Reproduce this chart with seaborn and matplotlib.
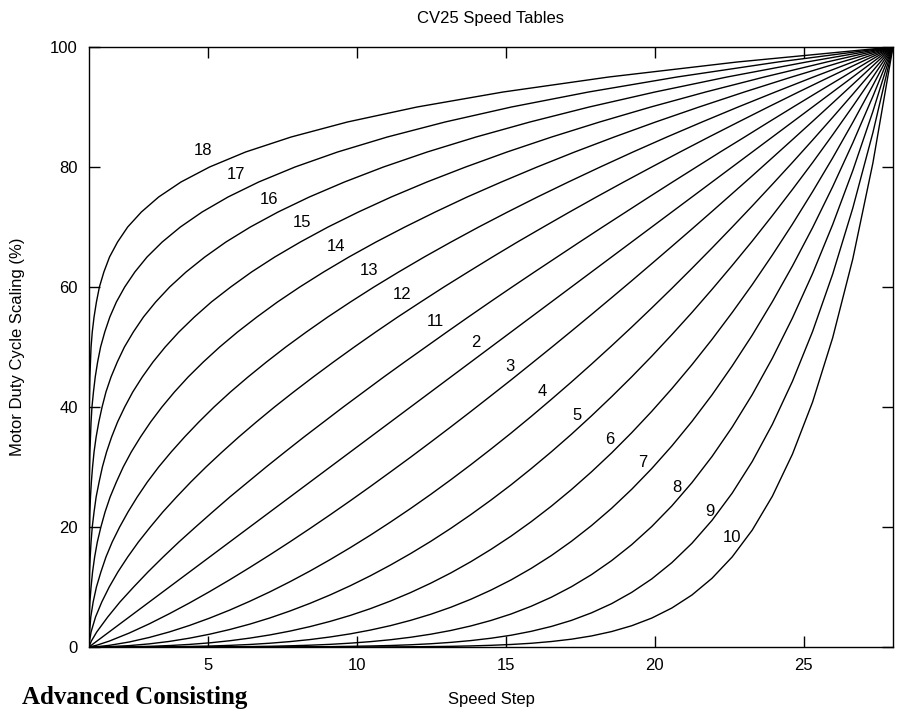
import matplotlib
matplotlib.use("Agg")
import matplotlib.pyplot as plt
import seaborn as sns

# speed steps at which the rising tables (2-10) were read
STEP_GRID = [1, 1.27, 1.675, 2.35, 3.025, 3.7, 4.375, 5.05, 5.725, 6.4, 7.075, 7.75, 8.425,
             9.1, 9.775, 10.45, 11.125, 11.8, 12.475, 13.15, 13.825, 14.5, 15.175, 15.85,
             16.525, 17.2, 17.875, 18.55, 19.225, 19.9, 20.575, 21.25, 21.925, 22.6,
             23.275, 23.95, 24.625, 25.3, 25.975, 26.65, 27.325, 28]
# duty levels (%) at which the steep-start tables (11-18) were read
DUTY_GRID = [0, 1, 2.5, 5, 7.5, 10, 12.5, 15, 17.5, 20, 22.5, 25, 27.5, 30, 32.5, 35, 37.5,
             40, 42.5, 45, 47.5, 50, 52.5, 55, 57.5, 60, 62.5, 65, 67.5, 70, 72.5, 75, 77.5,
             80, 82.5, 85, 87.5, 90, 92.5, 95, 97.5, 100]

# duty (%) at STEP_GRID
TABLE_2 = [0, 1, 2.5, 5, 7.5, 10, 12.5, 15, 17.5, 20, 22.5, 25, 27.5, 30, 32.5, 35, 37.5,
           40, 42.5, 45, 47.5, 50, 52.5, 55, 57.5, 60, 62.5, 65, 67.5, 70, 72.5, 75, 77.5,
           80, 82.5, 85, 87.5, 90, 92.5, 95, 97.5, 100]
TABLE_3 = [0, 0.31, 0.97, 2.32, 3.86, 5.55, 7.34, 9.23, 11.2, 13.25, 15.36, 17.53, 19.76,
           22.04, 24.37, 26.75, 29.18, 31.63, 34.14, 36.68, 39.26, 41.88, 44.51, 47.2,
           49.9, 52.64, 55.41, 58.21, 61.03, 63.89, 66.77, 69.67, 72.6, 75.56, 78.53,
           81.54, 84.56, 87.6, 90.67, 93.76, 96.87, 100]
TABLE_4 = [0, 0.06, 0.27, 0.83, 1.59, 2.51, 3.59, 4.81, 6.15, 7.62, 9.19, 10.88, 12.67,
           14.57, 16.56, 18.64, 20.82, 23.08, 25.43, 27.87, 30.39, 32.99, 35.66, 38.42,
           41.26, 44.16, 47.14, 50.19, 53.31, 56.51, 59.77, 63.11, 66.51, 69.98, 73.51,
           77.11, 80.76, 84.48, 88.27, 92.12, 96.03, 100]
TABLE_5 = [0, 0.01, 0.06, 0.23, 0.52, 0.93, 1.47, 2.13, 2.91, 3.81, 4.84, 6.0, 7.28, 8.68,
           10.21, 11.87, 13.66, 15.57, 17.6, 19.77, 22.07, 24.49, 27.03, 29.72, 32.52,
           35.45, 38.52, 41.71, 45.02, 48.47, 52.06, 55.76, 59.61, 63.58, 67.66, 71.9,
           76.26, 80.73, 85.36, 90.11, 94.99, 100]
TABLE_6 = [0, 0, 0.01, 0.04, 0.11, 0.24, 0.43, 0.69, 1.04, 1.48, 2.01, 2.65, 3.4, 4.27,
           5.26, 6.39, 7.66, 9.07, 10.63, 12.34, 14.22, 16.27, 18.48, 20.88, 23.46, 26.23,
           29.19, 32.34, 35.71, 39.28, 43.06, 47.05, 51.28, 55.74, 60.4, 65.33, 70.48,
           75.88, 81.51, 87.42, 93.59, 100]
TABLE_7 = [0, 0, 0, 0, 0.02, 0.04, 0.09, 0.16, 0.27, 0.42, 0.63, 0.9, 1.24, 1.67, 2.19,
           2.82, 3.56, 4.44, 5.45, 6.62, 7.96, 9.48, 11.18, 13.1, 15.23, 17.61, 20.23,
           23.11, 26.28, 29.74, 33.51, 37.6, 42.03, 46.84, 51.98, 57.55, 63.51, 69.88,
           76.71, 84.0, 91.76, 100]
TABLE_8 = [0, 0, 0, 0, 0, 0, 0.01, 0.02, 0.04, 0.07, 0.12, 0.2, 0.3, 0.44, 0.64, 0.89,
           1.21, 1.62, 2.13, 2.75, 3.51, 4.42, 5.5, 6.79, 8.29, 10.04, 12.06, 14.39,
           17.05, 20.08, 23.52, 27.4, 31.76, 36.64, 42.07, 48.13, 54.84, 62.23, 70.4,
           79.38, 89.24, 100]
TABLE_9 = [0, 0, 0, 0, 0, 0, 0, 0, 0, 0.01, 0.01, 0.02, 0.04, 0.06, 0.11, 0.17, 0.25,
           0.37, 0.54, 0.77, 1.07, 1.46, 1.96, 2.61, 3.42, 4.43, 5.69, 7.22, 9.1, 11.35,
           14.06, 17.29, 21.12, 25.64, 30.92, 37.11, 44.29, 52.57, 62.14, 73.13, 85.7, 100]
TABLE_10 = [0, 0, 0, 0, 0, 0, 0, 0, 0, 0, 0, 0, 0, 0, 0.01, 0.01, 0.02, 0.04, 0.07, 0.11,
            0.18, 0.28, 0.42, 0.62, 0.91, 1.3, 1.84, 2.57, 3.54, 4.82, 6.5, 8.67, 11.46,
            15.01, 19.49, 25.13, 32.15, 40.82, 51.53, 64.66, 80.64, 100]

# speed step at DUTY_GRID
TABLE_11 = [1, 1.08, 1.26, 1.63, 2.04, 2.5, 2.98, 3.49, 4.02, 4.58, 5.15, 5.73, 6.34,
            6.95, 7.58, 8.22, 8.88, 9.54, 10.22, 10.9, 11.6, 12.31, 13.02, 13.74, 14.47,
            15.21, 15.96, 16.72, 17.48, 18.25, 19.03, 19.81, 20.6, 21.4, 22.2, 23.02,
            23.83, 24.65, 25.48, 26.32, 27.15, 28]
TABLE_12 = [1, 1.02, 1.07, 1.22, 1.43, 1.68, 1.97, 2.3, 2.66, 3.06, 3.48, 3.94, 4.42,
            4.93, 5.47, 6.03, 6.62, 7.23, 7.87, 8.53, 9.21, 9.91, 10.63, 11.37, 12.14,
            12.92, 13.73, 14.55, 15.39, 16.26, 17.14, 18.04, 18.96, 19.9, 20.85, 21.82,
            22.81, 23.81, 24.83, 25.87, 26.93, 28]
TABLE_13 = [1, 1.0, 1.02, 1.06, 1.14, 1.25, 1.4, 1.57, 1.78, 2.03, 2.31, 2.62, 2.96, 3.34,
            3.76, 4.21, 4.69, 5.2, 5.75, 6.34, 6.96, 7.61, 8.3, 9.02, 9.78, 10.57, 11.4,
            12.26, 13.16, 14.09, 15.06, 16.06, 17.1, 18.17, 19.27, 20.41, 21.59, 22.8,
            24.05, 25.33, 26.65, 28]
TABLE_14 = [1, 1.0, 1.0, 1.01, 1.03, 1.07, 1.12, 1.19, 1.28, 1.4, 1.54, 1.71, 1.92, 2.15,
            2.42, 2.73, 3.07, 3.45, 3.87, 4.33, 4.84, 5.39, 5.99, 6.64, 7.33, 8.08, 8.88,
            9.73, 10.64, 11.61, 12.63, 13.7, 14.85, 16.05, 17.31, 18.64, 20.03, 21.49,
            23.01, 24.6, 26.27, 28]
TABLE_15 = [1, 1, 1, 1.0, 1.0, 1.01, 1.02, 1.04, 1.07, 1.11, 1.17, 1.24, 1.34, 1.45, 1.59,
            1.76, 1.96, 2.2, 2.47, 2.79, 3.15, 3.56, 4.02, 4.54, 5.11, 5.76, 6.46, 7.24,
            8.1, 9.03, 10.05, 11.15, 12.35, 13.65, 15.04, 16.54, 18.15, 19.87, 21.71,
            23.68, 25.78, 28]
TABLE_16 = [1, 1, 1, 1, 1.0, 1.0, 1.0, 1.01, 1.01, 1.02, 1.03, 1.05, 1.08, 1.12, 1.17,
            1.24, 1.33, 1.44, 1.57, 1.74, 1.95, 2.19, 2.49, 2.83, 3.24, 3.71, 4.26, 4.89,
            5.6, 6.42, 7.35, 8.4, 9.58, 10.89, 12.36, 14.0, 15.81, 17.8, 20.01, 22.43,
            25.1, 28]
TABLE_17 = [1, 1, 1, 1, 1, 1, 1, 1, 1, 1.0, 1.0, 1.01, 1.01, 1.02, 1.03, 1.05, 1.07, 1.1,
            1.15, 1.21, 1.29, 1.39, 1.53, 1.7, 1.92, 2.2, 2.54, 2.95, 3.46, 4.07, 4.8,
            5.67, 6.7, 7.92, 9.35, 11.02, 12.96, 15.19, 17.78, 20.75, 24.14, 28]
TABLE_18 = [1, 1, 1, 1, 1, 1, 1, 1, 1, 1, 1, 1, 1, 1, 1.0, 1.0, 1.01, 1.01, 1.02, 1.03,
            1.05, 1.07, 1.11, 1.17, 1.25, 1.35, 1.5, 1.69, 1.96, 2.3, 2.76, 3.34, 4.09,
            5.05, 6.26, 7.79, 9.68, 12.02, 14.91, 18.46, 22.77, 28]

RISING = {2: TABLE_2, 3: TABLE_3, 4: TABLE_4, 5: TABLE_5, 6: TABLE_6, 7: TABLE_7,
          8: TABLE_8, 9: TABLE_9, 10: TABLE_10}
STEEP = {11: TABLE_11, 12: TABLE_12, 13: TABLE_13, 14: TABLE_14, 15: TABLE_15,
         16: TABLE_16, 17: TABLE_17, 18: TABLE_18}

# where the table numbers sit (step, duty)
LABEL_POS = {18: (4.83, 82.7), 17: (5.93, 78.7), 16: (7.04, 74.5), 15: (8.15, 70.8),
             14: (9.29, 66.8), 13: (10.40, 62.8), 12: (11.50, 58.7), 11: (12.64, 54.3),
             2: (13.99, 50.7), 3: (15.13, 46.7), 4: (16.23, 42.5), 5: (17.38, 38.5),
             6: (18.48, 34.5), 7: (19.59, 30.7), 8: (20.73, 26.5), 9: (21.84, 22.5),
             10: (22.61, 18.3)}

sns.set_theme(style="ticks")
plt.rcParams['font.family'] = ['Liberation Sans', 'DejaVu Sans']
plt.rcParams['text.color'] = 'black'
plt.rcParams['axes.labelcolor'] = 'black'

fig = plt.figure(figsize=(8.97, 7.12), dpi=100)
ax = fig.add_axes([0.0992, 0.0913, 0.8963, 0.8427])

for k, duty in RISING.items():
    sns.lineplot(x=STEP_GRID, y=duty, ax=ax, color='black', lw=1.0,
                 sort=False, estimator=None)
for k, steps in STEEP.items():
    sns.lineplot(x=steps, y=DUTY_GRID, ax=ax, color='black', lw=1.0,
                 sort=False, estimator=None)

for k, (x, y) in LABEL_POS.items():
    ax.text(x, y, str(k), ha='center', va='center', fontsize=12, color='black')

ax.set_xlim(1, 28)
ax.set_ylim(0, 100)
ax.set_xticks([5, 10, 15, 20, 25])
ax.set_yticks([0, 20, 40, 60, 80, 100])
ax.tick_params(direction='in', length=8, width=1, top=True, right=True,
               labelsize=12, colors='black', pad=8)
for s in ax.spines.values():
    s.set_linewidth(1.0)
    s.set_color('black')

ax.set_xlabel("Speed Step", fontsize=12)
ax.set_ylabel("Motor Duty Cycle Scaling (%)", fontsize=12)
ax.xaxis.set_label_coords(0.5, -0.075)
ax.yaxis.set_label_coords(-0.08, 0.5)

fig.text(0.547, 1 - 18 / 712, "CV25 Speed Tables", ha='center', va='center', fontsize=12)
fig.text(22 / 897, 1 - 704 / 712, "Advanced Consisting", ha='left', va='baseline',
         fontsize=18, fontweight='bold', family='Liberation Serif')

fig.savefig("out.png", dpi=100)
